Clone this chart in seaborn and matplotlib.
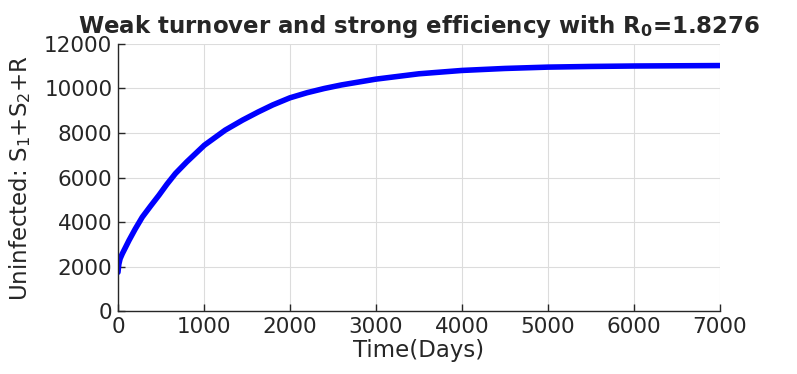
import matplotlib
matplotlib.use("Agg")
import matplotlib.pyplot as plt
import pandas as pd
import seaborn as sns

# values
days = [0, 10, 25, 50, 80, 128, 200, 283, 380, 476, 570, 669, 800, 1005,
        1248, 1450, 1634, 1800, 2000, 2200, 2400, 2600, 2800, 3000, 3500,
        4000, 4500, 5000, 5500, 6000, 6500, 7000]
uninfected = [1740, 2100, 2350, 2570, 2800, 3170, 3680, 4220, 4720, 5200,
              5700, 6180, 6700, 7450, 8130, 8580, 8950, 9260, 9580, 9810,
              10000, 10160, 10290, 10420, 10660, 10810, 10900, 10960, 10990,
              11010, 11020, 11030]

df = pd.DataFrame({"day": days, "uninfected": uninfected})

sns.set_style("whitegrid")
plt.rcParams["font.family"] = ["DejaVu Sans"]

fig = plt.figure(figsize=(7.97, 3.74), dpi=100)
ax = fig.add_axes([0.148, 0.1684, 0.755, 0.714])

sns.lineplot(data=df, x="day", y="uninfected", color="#0000ff", linewidth=4, ax=ax)

ax.set_xlim(0, 7000)
ax.set_ylim(0, 12000)
ax.set_xticks(range(0, 7001, 1000))
ax.set_yticks(range(0, 12001, 2000))
ax.grid(True, color="#dcdcdc", linewidth=0.8)
for side in ["top", "right"]:
    ax.spines[side].set_visible(False)
for side in ["left", "bottom"]:
    ax.spines[side].set_color("#262626")
    ax.spines[side].set_linewidth(1.0)
ax.tick_params(direction="in", length=5, width=1, colors="#262626",
               labelsize=15.5, left=True, bottom=True, pad=4)

ax.set_xlabel("Time(Days)", fontsize=16.5, color="#262626", labelpad=2)
ax.set_ylabel(r"Uninfected: S$_1$+S$_2$+R", fontsize=16.5, color="#262626", labelpad=8)
ax.set_title(r"Weak turnover and strong efficiency with R$_\mathbf{0}$=1.8276",
             fontsize=16.5, fontweight="bold", pad=8)

fig.savefig("out.png", dpi=100)
